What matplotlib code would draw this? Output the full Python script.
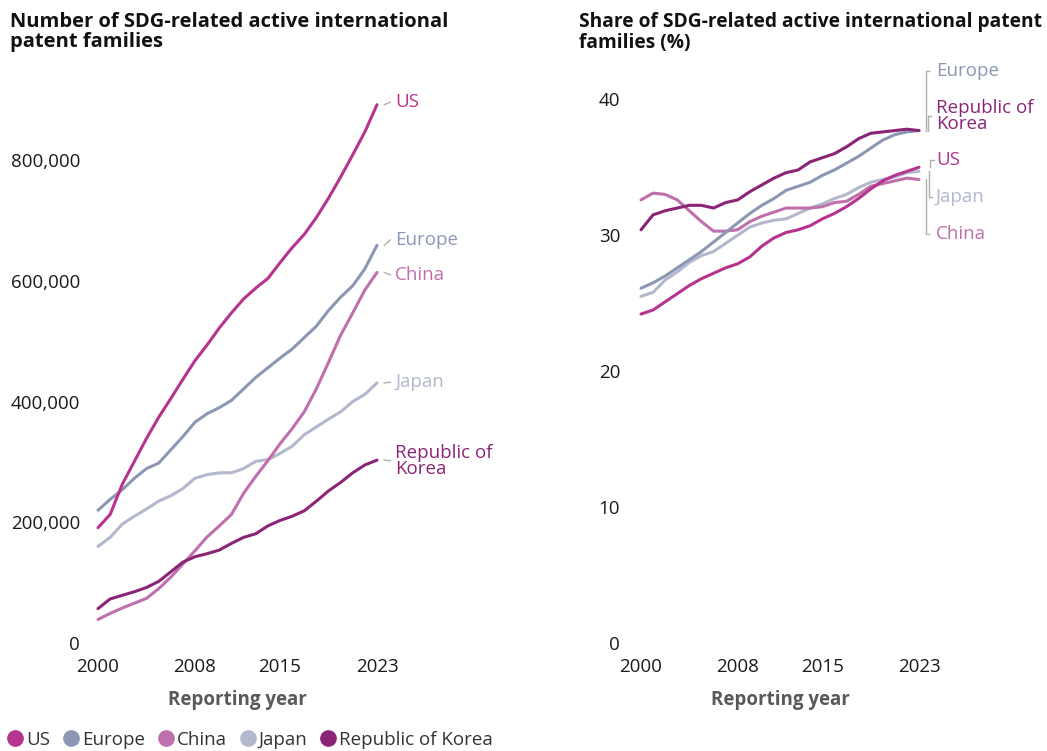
import matplotlib
matplotlib.use("Agg")
import matplotlib.pyplot as plt
from matplotlib.lines import Line2D

plt.rcParams['font.family'] = ['Open Sans', 'Noto Sans', 'DejaVu Sans']

years = list(range(2000, 2024))
series_names = ["US", "Europe", "China", "Japan", "Republic of Korea"]
colors = ["#B6348F", "#8B97B3", "#BF6FAB", "#B3B8CC", "#8A2477"]

us_count = [191, 213, 263, 301, 339, 374, 405, 437, 468, 494, 522, 547, 570, 588,
            604, 630, 655, 677, 705, 737, 772, 809, 847, 892]
europe_count = [220, 238, 254, 273, 289, 298, 320, 342, 366, 380, 390, 402, 421, 440,
                456, 472, 487, 506, 525, 551, 573, 592, 620, 659]
china_count = [39, 49, 58, 66, 74, 90, 109, 131, 153, 176, 194, 213, 248, 276,
               302, 330, 355, 383, 421, 465, 510, 547, 585, 614]
japan_count = [160, 175, 197, 210, 222, 235, 244, 256, 273, 279, 282, 282, 289, 301,
               304, 314, 326, 345, 358, 371, 383, 400, 412, 431]
korea_count = [57, 73, 79, 85, 92, 102, 118, 134, 143, 148, 154, 165, 175, 181,
               194, 203, 210, 219, 235, 252, 266, 282, 295, 303]

us_share = [24.2, 24.5, 25.1, 25.7, 26.3, 26.8, 27.2, 27.6, 27.9, 28.4, 29.2, 29.8,
            30.2, 30.4, 30.7, 31.2, 31.6, 32.1, 32.7, 33.4, 34.0, 34.4, 34.7, 35.0]
europe_share = [26.1, 26.5, 27.0, 27.6, 28.2, 28.8, 29.5, 30.2, 30.9, 31.6, 32.2, 32.7,
                33.3, 33.6, 33.9, 34.4, 34.8, 35.3, 35.8, 36.4, 37.0, 37.4, 37.6, 37.7]
china_share = [32.6, 33.1, 33.0, 32.6, 31.8, 31.0, 30.3, 30.3, 30.4, 31.0, 31.4, 31.7,
               32.0, 32.0, 32.0, 32.1, 32.4, 32.5, 33.0, 33.6, 33.8, 34.0, 34.2, 34.1]
japan_share = [25.5, 25.8, 26.7, 27.3, 28.0, 28.5, 28.8, 29.4, 30.0, 30.6, 30.9, 31.1,
               31.2, 31.6, 32.0, 32.3, 32.7, 33.0, 33.5, 33.9, 34.1, 34.3, 34.6, 34.7]
korea_share = [30.4, 31.5, 31.8, 32.0, 32.2, 32.2, 32.0, 32.4, 32.6, 33.2, 33.7, 34.2,
               34.6, 34.8, 35.4, 35.7, 36.0, 36.5, 37.1, 37.5, 37.6, 37.7, 37.8, 37.7]

count_series = [us_count, europe_count, china_count, japan_count, korea_count]
share_series = [us_share, europe_share, china_share, japan_share, korea_share]

# end labels (text, y position in data units)
left_labels = ["US", "Europe", "China", "Japan", "Republic of\nKorea"]
left_label_y = [896000, 668000, 610000, 432000, 302000]
right_labels = ["US", "Europe", "China", "Japan", "Republic of\nKorea"]
right_label_y = [35.5, 42.1, 30.1, 32.8, 38.75]

xticks = [2000, 2008, 2015, 2023]
left_yticks = [0, 200000, 400000, 600000, 800000]
right_yticks = [0, 10, 20, 30, 40]

W, H = 1047, 751
fig = plt.figure(figsize=(W / 100, H / 100), dpi=100)
FS = 13.5
TICK_COLOR = "#1a1a1a"

ax1 = fig.add_axes([98 / W, (H - 643) / H, (377 - 98) / W, (643 - 99.85) / H])
ax2 = fig.add_axes([641 / W, (H - 643) / H, (919 - 641) / W, (643 - 99.3) / H])

for ax in (ax1, ax2):
    for s in ax.spines.values():
        s.set_visible(False)
    ax.set_xlim(2000, 2023)
    ax.set_xticks(xticks)
    ax.set_xticklabels([str(x) for x in xticks])
    ax.tick_params(axis='both', length=0, labelsize=FS, colors=TICK_COLOR)
    ax.tick_params(axis='x', pad=11)
    ax.set_facecolor("none")

ax1.set_ylim(0, 900000)
ax1.set_yticks(left_yticks)
ax1.set_yticklabels([f"{v:,}" for v in left_yticks])
ax1.tick_params(axis='y', pad=13)

ax2.set_ylim(0, 40)
ax2.set_yticks(right_yticks)
ax2.set_yticklabels([str(v) for v in right_yticks])
ax2.tick_params(axis='y', pad=15)

order = [3, 2, 1, 0, 4]
for i in order:
    ax1.plot(years, [v * 1000 for v in count_series[i]], color=colors[i], lw=2.2,
             solid_joinstyle='round', solid_capstyle='round', clip_on=False)
    ax2.plot(years, share_series[i], color=colors[i], lw=2.2,
             solid_joinstyle='round', solid_capstyle='round', clip_on=False)

# left end labels with short connectors
for i in range(5):
    yend = count_series[i][-1] * 1000
    ax1.plot([2023.6, 2024.1], [yend, left_label_y[i]], color="#b0b0b0", lw=1,
             clip_on=False)
    ax1.text(2024.5, left_label_y[i], left_labels[i], color=colors[i], fontsize=FS,
             va='center', ha='left', linespacing=0.85)

# right end labels with bracket connectors
xc_offsets = {1: 0.0, 4: 0.15, 0: 0.35, 3: 0.2, 2: 0.0}
for i in range(5):
    yend = share_series[i][-1]
    xc = 2023.6 + xc_offsets[i]
    ax2.plot([xc, xc, xc + 0.25], [yend, right_label_y[i], right_label_y[i]],
             color="#b0b0b0", lw=1, clip_on=False)
    ax2.text(2024.4, right_label_y[i], right_labels[i], color=colors[i], fontsize=FS,
             va='center', ha='left', linespacing=0.85)

# titles
fig.text(10 / W, 1 - 12 / H, "Number of SDG-related active international\npatent families",
         fontsize=14.5, fontweight='bold', va='top', ha='left', color="#111111",
         linespacing=1.0)
fig.text(579 / W, 1 - 12 / H, "Share of SDG-related active international patent\nfamilies (%)",
         fontsize=13.8, fontweight='bold', va='top', ha='left', color="#111111",
         linespacing=1.05)

# axis titles
fig.text((98 + 377) / 2 / W, 1 - 700 / H, "Reporting year", fontsize=FS,
         fontweight='bold', color="#595959", ha='center', va='center')
fig.text((641 + 919) / 2 / W, 1 - 700 / H, "Reporting year", fontsize=FS,
         fontweight='bold', color="#595959", ha='center', va='center')

# legend
handles = [Line2D([0], [0], marker='o', linestyle='none', markersize=11,
                  markerfacecolor=c, markeredgecolor=c) for c in colors]
leg = fig.legend(handles, series_names, loc='lower left', bbox_to_anchor=(-0.003, -0.012),
                 ncol=5, frameon=False, fontsize=FS, handlelength=0.75,
                 handletextpad=0.2, columnspacing=0.75, borderaxespad=0.2)
for t in leg.get_texts():
    t.set_color("#333333")

fig.savefig("out.png", dpi=100)
